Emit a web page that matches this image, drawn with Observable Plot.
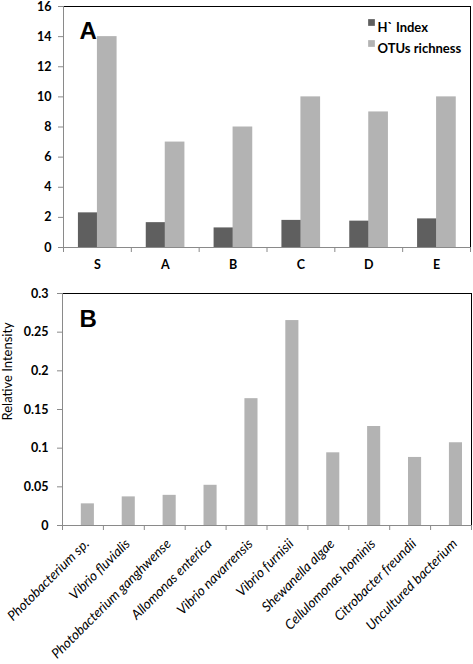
<!DOCTYPE html>
<html><head><meta charset="utf-8">
<script src="https://cdn.jsdelivr.net/npm/d3@7"></script>
<script src="https://cdn.jsdelivr.net/npm/@observablehq/plot@0.6"></script>
<style>body{margin:0;background:#fff;} svg{display:block}</style>
</head><body><div id="a"></div><div id="b"></div>
<script>
// ---- Panel A data ----
const sites = ["S", "A", "B", "C", "D", "E"];
const hIndex = [2.3, 1.65, 1.3, 1.8, 1.75, 1.9];
const otuRichness = [14, 7, 8, 10, 9, 10];
const seriesNames = ["H` Index", "OTUs richness"];
const yTicksA = [0, 2, 4, 6, 8, 10, 12, 14, 16];

// ---- Panel B data ----
const species = ["Photobacterium sp.", "Vibrio fluvialis", "Photobacterium ganghwense", "Allomonas enterica",
  "Vibrio navarrensis", "Vibrio furnisii", "Shewanella algae", "Cellulomonas hominis", "Citrobacter freundii",
  "Uncultured bacterium"];
const intensity = [0.028, 0.037, 0.039, 0.052, 0.164, 0.265, 0.094, 0.128, 0.088, 0.107];
const yTicksB = [0, 0.05, 0.1, 0.15, 0.2, 0.25, 0.3];
const yLabelB = "Relative Intensity";

const FONT = "Lato, 'Open Sans', sans-serif";
const DARK = "#5f5f5f", LIGHT = "#b3b3b3", AXIS = "#8a8a8a";

const dataA = sites.flatMap((s, i) => [
  {site: s, i, series: seriesNames[0], value: hIndex[i], off: 0.22},
  {site: s, i, series: seriesNames[1], value: otuRichness[i], off: 0.5}
]);

const chartA = Plot.plot({
  width: 473, height: 270,
  marginTop: 6, marginBottom: 23, marginLeft: 63, marginRight: 3,
  style: {fontFamily: FONT, fontSize: "12.5px", fontWeight: "bold", color: "#000", background: "#fff"},
  x: {domain: [0, sites.length], axis: null},
  y: {domain: [0, 16], axis: null},
  color: {domain: seriesNames, range: [DARK, LIGHT]},
  marks: [
    Plot.rectY(dataA, {x1: d => d.i + d.off, x2: d => d.i + d.off + 0.29, y1: 0, y2: "value", fill: "series"}),
    Plot.ruleY([16], {stroke: "#000"}),
    Plot.ruleX([sites.length], {stroke: "#000"}),
    Plot.ruleX([0], {stroke: AXIS}),
    Plot.ruleY([0], {stroke: AXIS}),
    Plot.axisY({ticks: yTicksA, tickSize: 5, tickPadding: 7, stroke: AXIS, fill: "#000", label: null, tickFormat: d => String(d)}),
    Plot.axisX({ticks: d3.range(0, sites.length + 1), tickSize: 5, stroke: AXIS, label: null, tickFormat: () => ""}),
    Plot.text(sites, {x: (d, i) => i + 0.5, y: 0, dy: 17, text: d => d, fontSize: 12.5}),
    Plot.text(["A"], {frameAnchor: "top-left", dx: 16, dy: 15, fontSize: 24, fontWeight: "bold", fontFamily: "Arial, 'Liberation Sans', sans-serif"}),
    ...seriesNames.map((s, k) => Plot.dot([s], {frameAnchor: "top-right", dx: -99, dy: 16 + 21 * k, symbol: "square", r: 3.8, fill: k === 0 ? DARK : LIGHT})),
    ...seriesNames.map((s, k) => Plot.text([s], {frameAnchor: "top-right", dx: -93, dy: 16 + 21 * k, textAnchor: "start", fontSize: 13}))
  ]
});
document.getElementById("a").appendChild(chartA);

const chartB = Plot.plot({
  width: 473, height: 394,
  marginTop: 23, marginBottom: 139, marginLeft: 62, marginRight: 2,
  style: {fontFamily: FONT, fontSize: "12.5px", fontWeight: "bold", color: "#000", background: "#fff"},
  x: {domain: [0, species.length], axis: null},
  y: {domain: [0, 0.3], axis: null},
  marks: [
    Plot.rectY(species, {x1: (d, i) => i + 0.46, x2: (d, i) => i + 0.78, y1: 0, y2: (d, i) => intensity[i], fill: LIGHT}),
    Plot.ruleY([0.3], {stroke: "#000"}),
    Plot.ruleX([species.length], {stroke: "#000"}),
    Plot.ruleX([0], {stroke: AXIS}),
    Plot.ruleY([0], {stroke: AXIS}),
    Plot.axisY({ticks: yTicksB, tickSize: 5, tickPadding: 9, stroke: AXIS, fill: "#000", label: null, tickFormat: d => String(d)}),
    Plot.axisX({ticks: d3.range(0, species.length + 1), tickSize: 5, stroke: AXIS, label: null, tickFormat: () => ""}),
    Plot.text(species, {x: (d, i) => i + 0.62, y: 0, dy: 16, dx: -1, rotate: -45, textAnchor: "end", text: d => d, fontStyle: "italic", fontWeight: "normal", fontSize: 13.5}),
    Plot.text([yLabelB], {frameAnchor: "left", dx: -55, dy: 11, rotate: -90, fontSize: 13, fontWeight: "normal"}),
    Plot.text(["B"], {frameAnchor: "top-left", dx: 17, dy: 16, fontSize: 24, fontWeight: "bold", fontFamily: "Arial, 'Liberation Sans', sans-serif"})
  ]
});
document.getElementById("b").appendChild(chartB);
</script>
</body></html>
